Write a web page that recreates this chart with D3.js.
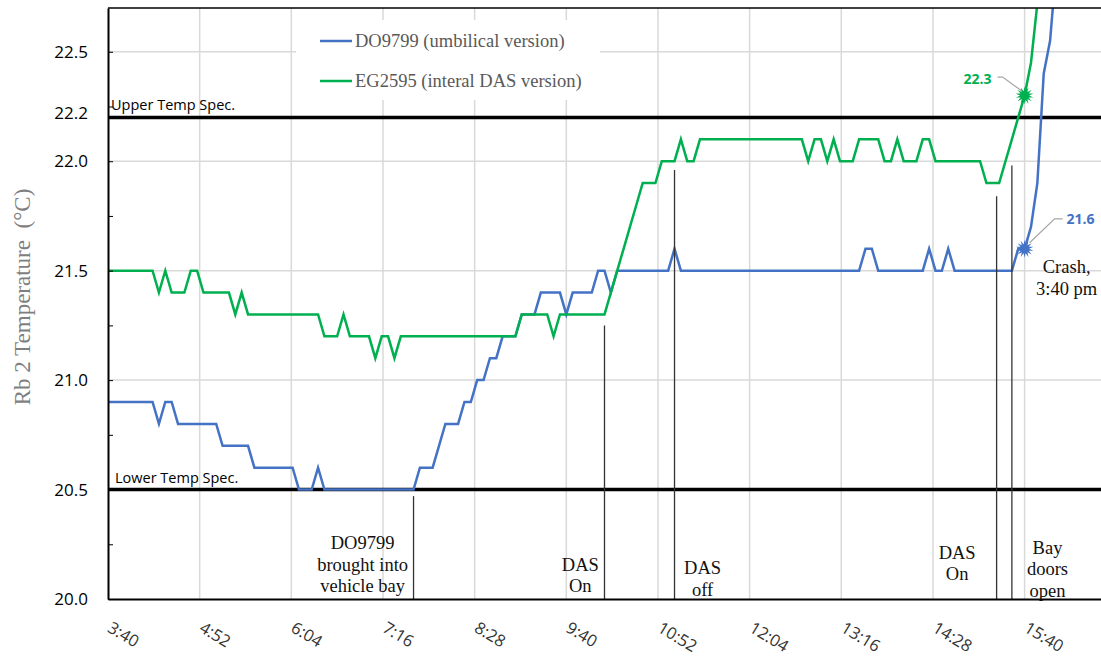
<!DOCTYPE html>
<html>
<head>
<meta charset="utf-8">
<script src="https://cdn.jsdelivr.net/npm/d3@7/dist/d3.min.js"></script>
<style>
  body { margin: 0; background: #fff; }
</style>
</head>
<body>
<script>
// readings every 5 minutes, first one at 3:40
const startTime = "3:40";
const stepMinutes = 5;

const do9799 = [
  20.9, 20.9, 20.9, 20.9, 20.9, 20.9, 20.9, 20.9, 20.8, 20.9,
  20.9, 20.8, 20.8, 20.8, 20.8, 20.8, 20.8, 20.8, 20.7, 20.7,
  20.7, 20.7, 20.7, 20.6, 20.6, 20.6, 20.6, 20.6, 20.6, 20.6,
  20.5, 20.5, 20.5, 20.6, 20.5, 20.5, 20.5, 20.5, 20.5, 20.5,
  20.5, 20.5, 20.5, 20.5, 20.5, 20.5, 20.5, 20.5, 20.5, 20.6,
  20.6, 20.6, 20.7, 20.8, 20.8, 20.8, 20.9, 20.9, 21.0, 21.0,
  21.1, 21.1, 21.2, 21.2, 21.2, 21.3, 21.3, 21.3, 21.4, 21.4,
  21.4, 21.4, 21.3, 21.4, 21.4, 21.4, 21.4, 21.5, 21.5, 21.4,
  21.5, 21.5, 21.5, 21.5, 21.5, 21.5, 21.5, 21.5, 21.5, 21.6,
  21.5, 21.5, 21.5, 21.5, 21.5, 21.5, 21.5, 21.5, 21.5, 21.5,
  21.5, 21.5, 21.5, 21.5, 21.5, 21.5, 21.5, 21.5, 21.5, 21.5,
  21.5, 21.5, 21.5, 21.5, 21.5, 21.5, 21.5, 21.5, 21.5, 21.6,
  21.6, 21.5, 21.5, 21.5, 21.5, 21.5, 21.5, 21.5, 21.5, 21.6,
  21.5, 21.5, 21.6, 21.5, 21.5, 21.5, 21.5, 21.5, 21.5, 21.5,
  21.5, 21.5, 21.5, 21.6, 21.6, 21.7, 21.9, 22.4, 22.55, 22.9
];

const eg2595 = [
  21.5, 21.5, 21.5, 21.5, 21.5, 21.5, 21.5, 21.5, 21.4, 21.5,
  21.4, 21.4, 21.4, 21.5, 21.5, 21.4, 21.4, 21.4, 21.4, 21.4,
  21.3, 21.4, 21.3, 21.3, 21.3, 21.3, 21.3, 21.3, 21.3, 21.3,
  21.3, 21.3, 21.3, 21.3, 21.2, 21.2, 21.2, 21.3, 21.2, 21.2,
  21.2, 21.2, 21.1, 21.2, 21.2, 21.1, 21.2, 21.2, 21.2, 21.2,
  21.2, 21.2, 21.2, 21.2, 21.2, 21.2, 21.2, 21.2, 21.2, 21.2,
  21.2, 21.2, 21.2, 21.2, 21.2, 21.3, 21.3, 21.3, 21.3, 21.3,
  21.2, 21.3, 21.3, 21.3, 21.3, 21.3, 21.3, 21.3, 21.3, 21.4,
  21.5, 21.6, 21.7, 21.8, 21.9, 21.9, 21.9, 22.0, 22.0, 22.0,
  22.1, 22.0, 22.0, 22.1, 22.1, 22.1, 22.1, 22.1, 22.1, 22.1,
  22.1, 22.1, 22.1, 22.1, 22.1, 22.1, 22.1, 22.1, 22.1, 22.1,
  22.0, 22.1, 22.1, 22.0, 22.1, 22.0, 22.0, 22.0, 22.1, 22.1,
  22.1, 22.1, 22.0, 22.0, 22.1, 22.0, 22.0, 22.0, 22.1, 22.1,
  22.0, 22.0, 22.0, 22.0, 22.0, 22.0, 22.0, 22.0, 21.9, 21.9,
  21.9, 22.0, 22.1, 22.2, 22.3, 22.45, 22.72
];

const xTickLabels = ["3:40", "4:52", "6:04", "7:16", "8:28", "9:40", "10:52", "12:04", "13:16", "14:28", "15:40"];
const yTickLabels = [20.0, 20.5, 21.0, 21.5, 22.0, 22.5];
const yMinorTicks = [20.0, 20.25, 20.5, 20.75, 21.0, 21.25, 21.5, 21.75, 22.0, 22.25, 22.5];

const specNames = ["Upper Temp Spec.", "Lower Temp Spec."];
const specValues = [22.2, 20.5];

// event marker lines: time and top value
const eventTimes = ["7:40", "10:10", "11:05", "15:18", "15:30"];
const eventTops = [20.47, 21.25, 21.96, 21.84, 21.98];

// notes: centre time, baseline value of first line, text lines
const noteTimes = ["7:00", "9:51", "11:27", "14:47", "15:58", "16:13"];
const noteValues = [20.228, 20.128, 20.114, 20.183, 20.206, 21.489];
const noteLines = [
  ["DO9799", "brought into", "vehicle bay"],
  ["DAS", "On"],
  ["DAS", "off"],
  ["DAS", "On"],
  ["Bay", "doors", "open"],
  ["Crash,", "3:40 pm"]
];

const seriesNames = ["DO9799 (umbilical version)", "EG2595 (interal DAS version)"];
const crashTime = "15:40";

function toMin(s) {
  let p = s.split(":");
  return +p[0] * 60 + +p[1];
}

function main() {
  let width = 1101;
  let height = 656;
  let colors = ["#4472C4", "#00B050"];
  let series = [do9799, eg2595];
  let t0 = toMin(startTime);

  let svg = d3.select("body").append("svg")
    .attr("width", width)
    .attr("height", height)
    .style("font-family", "'Open Sans', sans-serif");

  let x = d3.scaleLinear().domain([t0, toMin("16:40")]).range([108, 1101]);
  let y = d3.scaleLinear().domain([20, 22.7]).range([599, 8]);

  // grid
  svg.append("g")
    .selectAll("line")
    .data(xTickLabels.slice(1))
    .enter()
    .append("line")
    .attr("x1", d => x(toMin(d)))
    .attr("x2", d => x(toMin(d)))
    .attr("y1", y(22.7))
    .attr("y2", y(20))
    .attr("stroke", "#d9d9d9")
    .attr("stroke-width", 1.5);

  svg.append("g")
    .selectAll("line")
    .data(yTickLabels.slice(1))
    .enter()
    .append("line")
    .attr("x1", x.range()[0])
    .attr("x2", x.range()[1])
    .attr("y1", d => y(d))
    .attr("y2", d => y(d))
    .attr("stroke", "#d9d9d9")
    .attr("stroke-width", 1.5);

  // legend box hides the grid behind it
  let legend = svg.append("g");
  legend.append("rect")
    .attr("x", 296).attr("y", 20)
    .attr("width", 304).attr("height", 80)
    .attr("fill", "#fff");
  seriesNames.forEach(function(name, i) {
    let ly = 41 + i * 40;
    legend.append("line")
      .attr("x1", 320).attr("x2", 352)
      .attr("y1", ly).attr("y2", ly)
      .attr("stroke", colors[i])
      .attr("stroke-width", 2.5);
    legend.append("text")
      .attr("x", 355)
      .attr("y", ly + 6)
      .attr("font-family", "'Liberation Serif', serif")
      .attr("font-size", 18.5)
      .attr("fill", "#595959")
      .text(name);
  });

  // spec limits
  specValues.forEach(function(v, i) {
    svg.append("line")
      .attr("x1", x.range()[0]).attr("x2", x.range()[1])
      .attr("y1", y(v)).attr("y2", y(v))
      .attr("stroke", "#000")
      .attr("stroke-width", 3.5);
    svg.append("text")
      .attr("x", i === 0 ? 111 : 115)
      .attr("y", y(v) - 7)
      .attr("font-size", 14.5)
      .attr("fill", "#000")
      .text(specNames[i]);
  });

  // series
  svg.append("clipPath").attr("id", "plot")
    .append("rect")
    .attr("x", 108).attr("y", y(22.7))
    .attr("width", 1101 - 108).attr("height", y(20) - y(22.7));

  let line = d3.line()
    .x((d, i) => x(t0 + i * stepMinutes))
    .y(d => y(d));

  series.forEach(function(s, i) {
    svg.append("path")
      .datum(s)
      .attr("clip-path", "url(#plot)")
      .attr("d", line)
      .attr("fill", "none")
      .attr("stroke", colors[i])
      .attr("stroke-width", 2.5);
  });

  // event lines
  eventTimes.forEach(function(t, i) {
    svg.append("line")
      .attr("x1", x(toMin(t))).attr("x2", x(toMin(t)))
      .attr("y1", y(eventTops[i])).attr("y2", y(20))
      .attr("stroke", "#333")
      .attr("stroke-width", 1.3);
  });

  // notes
  noteTimes.forEach(function(t, i) {
    let txt = svg.append("text")
      .attr("text-anchor", "middle")
      .attr("font-family", "'Liberation Serif', serif")
      .attr("font-size", 18.5)
      .attr("fill", "#111");
    noteLines[i].forEach(function(l, j) {
      txt.append("tspan")
        .attr("x", x(toMin(t)))
        .attr("y", y(noteValues[i]) + j * 21.5)
        .text(l);
    });
  });

  // axes
  let yAxis = svg.append("g")
    .attr("transform", "translate(108,0)")
    .call(d3.axisLeft(y).tickValues(yMinorTicks).tickSize(-5).tickSizeOuter(0).tickFormat(""));
  yAxis.select(".domain").attr("stroke-width", 2);

  let yLabels = svg.append("g")
    .attr("transform", "translate(108,0)")
    .call(d3.axisLeft(y).tickValues(yTickLabels).tickSize(0).tickPadding(20).tickFormat(d3.format(".1f")));
  yLabels.select(".domain").remove();
  yLabels.selectAll("text")
    .attr("font-family", "'Open Sans', sans-serif")
    .attr("font-size", 17)
    .attr("fill", "#000");
  // extra label for the upper spec value
  svg.append("text")
    .attr("x", 88)
    .attr("y", y(specValues[0]) - 4)
    .attr("dy", "0.35em")
    .attr("text-anchor", "end")
    .attr("font-size", 17)
    .attr("fill", "#000")
    .text(d3.format(".1f")(specValues[0]));

  let xAxis = svg.append("g")
    .attr("transform", "translate(0," + y(20) + ")")
    .call(d3.axisBottom(x).tickValues(xTickLabels.map(toMin)).tickSize(0).tickSizeOuter(0)
      .tickFormat((d, i) => xTickLabels[i]));
  xAxis.select(".domain").attr("stroke", "#000").attr("stroke-width", 2);
  xAxis.selectAll("text")
    .attr("font-family", "'Open Sans', sans-serif")
    .attr("font-size", 16.5)
    .attr("fill", "#333")
    .attr("text-anchor", "start")
    .attr("x", 0)
    .attr("y", 0)
    .attr("dy", null)
    .attr("transform", "translate(-2,32) rotate(31)");

  // top frame
  svg.append("line")
    .attr("x1", 108).attr("x2", 1101)
    .attr("y1", y(22.7)).attr("y2", y(22.7))
    .attr("stroke", "#000").attr("stroke-width", 1.5);

  // y title
  svg.append("text")
    .attr("transform", "translate(22," + 297 + ") rotate(-90)")
    .attr("text-anchor", "middle")
    .attr("dominant-baseline", "central")
    .attr("font-family", "'Liberation Serif', serif")
    .attr("font-size", 23)
    .attr("fill", "#7f7f7f")
    .style("white-space", "pre")
    .text("Rb 2 Temperature  (°C)");

  // crash markers and callouts
  let burst = function(r1, r2, n) {
    let pts = [];
    for (let k = 0; k < n * 2; k++) {
      let a = Math.PI * k / n;
      let r = k % 2 === 0 ? r1 : r2;
      pts.push([Math.sin(a) * r, -Math.cos(a) * r]);
    }
    return "M" + pts.join("L") + "Z";
  };
  let ci = (toMin(crashTime) - t0) / stepMinutes;
  let callouts = [
    {s: 1, dx: -47, dy: -16.5, leader: [[-2, -4], [-22, -18.5], [-27, -18.5]]},
    {s: 0, dx: 56, dy: -30, leader: [[5, -6], [30, -30], [38, -30]]}
  ];
  callouts.forEach(function(c) {
    let v = series[c.s][ci];
    let cx = x(toMin(crashTime));
    let cy = y(v);
    svg.append("polyline")
      .attr("points", c.leader.map(p => [cx + p[0], cy + p[1]]).join(" "))
      .attr("fill", "none")
      .attr("stroke", "#a6a6a6")
      .attr("stroke-width", 1.2);
    svg.append("path")
      .attr("transform", "translate(" + cx + "," + cy + ")")
      .attr("d", burst(9, 4.5, 14))
      .attr("fill", colors[c.s]);
    svg.append("text")
      .attr("x", cx + c.dx)
      .attr("y", cy + c.dy)
      .attr("dy", "0.35em")
      .attr("text-anchor", "middle")
      .attr("font-size", 14)
      .attr("font-weight", "bold")
      .attr("fill", colors[c.s])
      .text(d3.format(".1f")(v));
  });
}

main();
</script>
</body>
</html>
